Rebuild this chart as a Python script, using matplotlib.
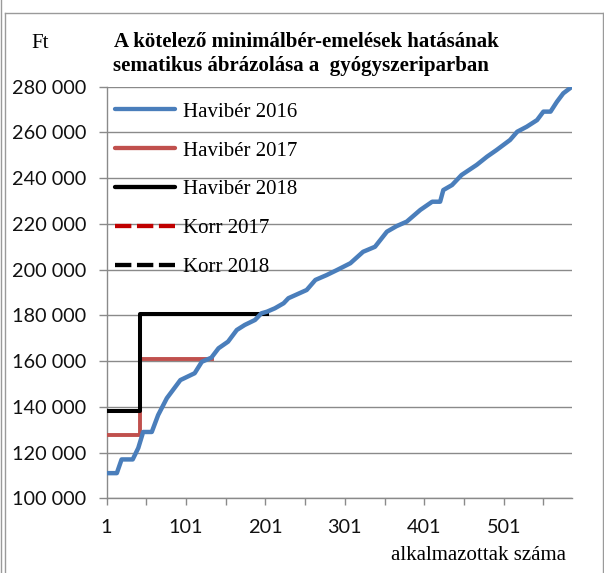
import matplotlib
matplotlib.use("Agg")
import matplotlib.pyplot as plt
from matplotlib.lines import Line2D
from matplotlib.ticker import FuncFormatter, MultipleLocator, FixedLocator

# 2016-os havibérek (alkalmazottak bér szerint sorba rendezve) - töréspontok
x_2016 = [1, 14, 20, 34, 41, 46, 47, 58, 66, 77, 94, 112, 121, 133, 142, 154,
          165, 175, 188, 196, 203, 213, 224, 230, 253, 264, 278, 291, 308, 324,
          339, 354, 366, 379, 396, 411, 421, 425, 436, 448, 467, 480, 492, 509,
          518, 530, 543, 551, 560, 568, 576, 587]
y_2016 = [111000, 111000, 117000, 117000, 122000, 127700, 129000, 129000,
          136400, 143800, 151700, 154700, 159700, 161500, 165600, 168500,
          173600, 175800, 178000, 180900, 181600, 183100, 185300, 187500,
          191100, 195500, 197600, 199800, 202800, 207800, 210000, 216600,
          219000, 221000, 226100, 229700, 229700, 234800, 237000, 241400,
          245800, 249400, 252300, 256700, 260300, 262500, 265400, 269100,
          269100, 273400, 277100, 280000]

x_2017 = [1, 43, 43, 134]
y_2017 = [127500, 127500, 161000, 161000]
x_2018 = [1, 43, 43, 203]
y_2018 = [138000, 138000, 180500, 180500]
# korrekciós sorok (a diagramon nem látszanak, csak a jelmagyarázatban)
x_korr = []
y_korr = []

W, H = 604, 573
fig = plt.figure(figsize=(W / 100, H / 100), dpi=100)
ax = fig.add_axes([106.5 / W, 1 - 498.3 / H, (572 - 106.5) / W, (498.3 - 86.7) / H])

grey = "#8a8a8a"
l1, = ax.plot(x_2016, y_2016, color="#4a7ebb", lw=3.2, zorder=5, label="Havibér 2016")
l2, = ax.plot(x_2017, y_2017, color="#c0504d", lw=2.8, zorder=3, label="Havibér 2017")
l3, = ax.plot(x_2018, y_2018, color="black", lw=2.9, zorder=4, label="Havibér 2018")
l4, = ax.plot(x_korr, y_korr, color="#c00000", lw=2.9, ls=(0, (3.8, 1.3)), label="Korr 2017")
l5, = ax.plot(x_korr, y_korr, color="black", lw=2.9, ls=(0, (3.8, 1.3)), label="Korr 2018")

ax.set_xlim(1, 587)
ax.set_ylim(100000, 280000)
ax.yaxis.set_major_locator(MultipleLocator(20000))
ax.yaxis.set_major_formatter(FuncFormatter(lambda v, p: f"{v:,.0f}".replace(",", " ")))
ax.xaxis.set_major_locator(FixedLocator(list(range(1, 587, 50))))
ax.xaxis.set_major_formatter(FuncFormatter(lambda v, p: f"{int(v)}" if (int(v) - 1) % 100 == 0 else ""))

ax.grid(axis="y", color=grey, lw=1.0)
ax.set_axisbelow(True)
for s in ["top", "right"]:
    ax.spines[s].set_visible(False)
for s in ["left", "bottom"]:
    ax.spines[s].set_color(grey)
    ax.spines[s].set_linewidth(1.0)

ax.tick_params(axis="y", direction="out", length=5.8, width=1.0, color=grey, pad=9)
ax.tick_params(axis="x", direction="out", length=5, width=1.0, color=grey, pad=10)
for lab in ax.get_xticklabels() + ax.get_yticklabels():
    lab.set_fontfamily("Lato")
    lab.set_fontsize(14.3)
    lab.set_color("#111111")

leg = ax.legend(handles=[l1, l2, l3, l4, l5], loc="upper left",
                bbox_to_anchor=(115 / W, 1 - 102 / H), bbox_transform=fig.transFigure,
                frameon=False, borderpad=0, borderaxespad=0,
                handlelength=2.9, handletextpad=0.35, labelspacing=0.93,
                prop={"family": "Liberation Serif", "size": 15})
leg.set_zorder(6)
for h in leg.get_lines():
    h.set_linewidth(3.1)
    h.set_solid_capstyle("round")

fig.text(306 / W, 1 - 42 / H, "A kötelező minimálbér-emelések hatásának",
         ha="center", va="center", family="Liberation Serif", weight="bold", size=15)
fig.text(301 / W, 1 - 66 / H, "sematikus ábrázolása a  gyógyszeriparban",
         ha="center", va="center", family="Liberation Serif", weight="bold", size=15)
fig.text(40 / W, 1 - 43 / H, "Ft", ha="center", va="center",
         family="Liberation Serif", size=15)
fig.text(566 / W, 1 - 556 / H, "alkalmazottak száma", ha="right", va="center",
         family="Liberation Serif", size=15)

# keret
for xs, ys in [([0.5, 0.5], [0, H]), ([5.3, 5.3], [12.7, H]),
               ([5.3, 602.7], [12.7, 12.7]), ([602.7, 602.7], [12.7, H])]:
    fig.add_artist(Line2D([x / W for x in xs], [1 - y / H for y in ys],
                          color="#9a9a9a", lw=1.0))

fig.savefig("out.png", dpi=100)
